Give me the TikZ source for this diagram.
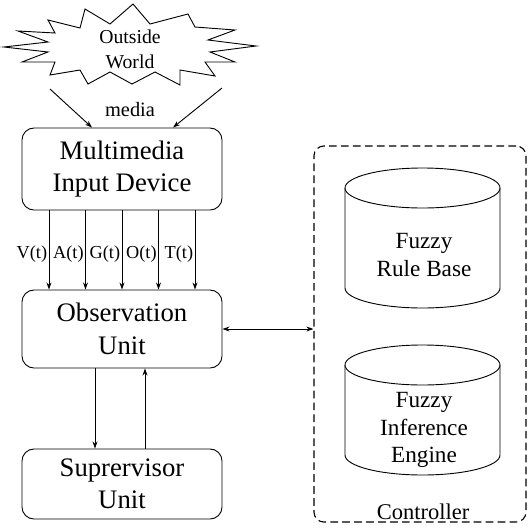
\documentclass[tikz,border=0pt]{standalone}
\usepackage{fontspec}
\setmainfont{Liberation Serif}
\usetikzlibrary{shapes, shapes.geometric, arrows.meta, positioning}

\begin{document}
\begin{tikzpicture}[x=0.025cm, y=-0.025cm, line width=0.65pt,
  >={Stealth[length=5pt, width=3.5pt]},
  unit/.style={draw, rounded corners=0.3cm, minimum width=5cm, align=center,
    font=\fontsize{19}{23}\selectfont},
  store/.style={align=center, font=\fontsize{16.5}{19.5}\selectfont},
  sig/.style={font=\fontsize{13}{15}\selectfont, inner sep=1pt}]
  \useasboundingbox (0,0) rectangle (528,528);

  % outside world
  \draw (133,4) -- (150,24) -- (188,14) -- (195,27) -- (235,30) -- (208,40)
    -- (256,46) -- (210,52) -- (235,62) -- (205,62) -- (215,76) -- (180,70)
    -- (180,85) -- (155,72) -- (132,84) -- (110,72) -- (88,84) -- (80,70)
    -- (50,75) -- (55,62) -- (22,62) -- (48,52) -- (4,47) -- (48,42)
    -- (18,31) -- (55,33) -- (48,20) -- (80,28) -- (85,9) -- (110,24) -- cycle;
  \draw (130,49) node[align=center, font=\fontsize{14}{18}\selectfont] (world) {Outside\\World};
  \draw (130,110) node[font=\fontsize{14.5}{16}\selectfont] (media) {media};

  \draw (122,169) node[unit, minimum height=2.05cm] (mid) {Multimedia\\Input Device};
  \draw (122,329) node[unit, minimum height=1.95cm] (obs) {Observation\\Unit};
  \draw (122,484) node[unit, minimum height=1.75cm] (sup) {Suprervisor\\Unit};

  \coordinate (wl) at (50,89); \coordinate (wr) at (222,88);
  \draw[black, ->] (wl) -- ([xshift=-0.75cm]mid.north);
  \draw[black, ->] (wr) -- ([xshift=1.275cm]mid.north);

  \foreach \d/\s in {-2/V, -1/A, 0/G, 1/O, 2/T}
    \draw[black, ->] ([xshift=\d*0.9125cm]mid.south) -- ([xshift=\d*0.9125cm]obs.north)
      node[sig, pos=0.55, left] {\s(t)};

  \draw[black, ->] ([xshift=-0.675cm]obs.south) -- ([xshift=-0.675cm]sup.north);
  \draw[black, ->] ([xshift=0.575cm]sup.north) -- ([xshift=0.575cm]obs.south);

  % controller
  \draw (420,334) node[draw, line width=0.8pt, dash pattern=on 5.5pt off 3pt,
    rounded corners=0.25cm, minimum width=5.3cm, minimum height=9.4cm] (ctrl) {};
  \draw (423,512) node[font=\fontsize{16}{18}\selectfont] (ctrllbl) {Controller};

  % rule base
  \draw (345,188) -- (345,288) arc[start angle=180, end angle=360,
    x radius=1.9375cm, y radius=0.5cm] -- (500,188);
  \draw (422.5,188) ellipse [x radius=1.9375cm, y radius=0.5cm];
  \draw (424,255) node[store] (rule) {Fuzzy\\Rule Base};

  % inference engine
  \draw (345,365) -- (345,455) arc[start angle=180, end angle=360,
    x radius=1.9375cm, y radius=0.5cm] -- (500,365);
  \draw (422.5,365) ellipse [x radius=1.9375cm, y radius=0.5cm];
  \draw (424,430) node[store] (engine) {Fuzzy\\Inference\\Engine};

  \draw[black, <->] (obs.east) -- (obs.east -| ctrl.west);

\end{tikzpicture}
\end{document}
